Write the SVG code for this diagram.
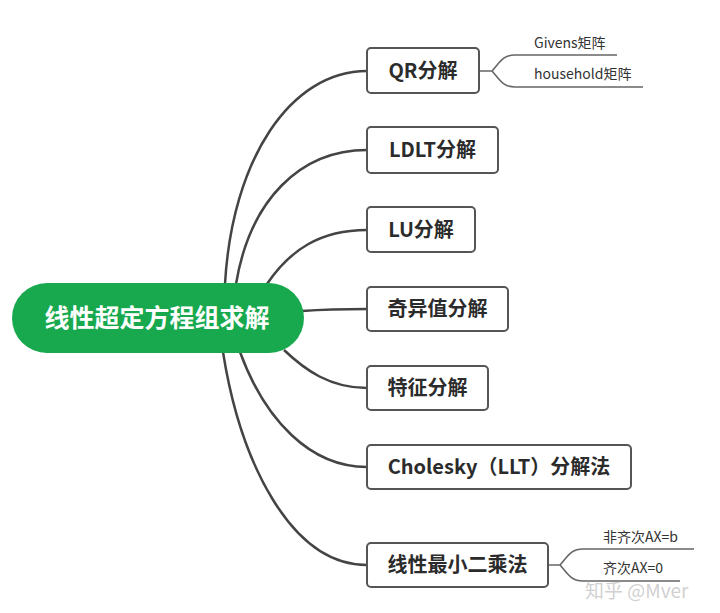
<svg xmlns="http://www.w3.org/2000/svg" width="720" height="613" viewBox="0 0 720 613">
<style>
.box{fill:#fff;stroke:#555;stroke-width:2}
.bt{font-family:"Noto Sans CJK SC","Liberation Sans",sans-serif;font-weight:bold;font-size:20px;fill:#2b2b2b;text-anchor:middle}
.main{fill:none;stroke:#444;stroke-width:2.5}
.sub{fill:none;stroke:#666;stroke-width:1.6}
.st{font-family:"Noto Sans CJK SC","Liberation Sans",sans-serif;font-size:14px;fill:#333}
</style>
<rect width="720" height="613" fill="#fff"/>
<g id="connectors">
<path class="main" d="M225,284 C232,160 290,71 367,71"/>
<path class="main" d="M236,284 C250,200 300,150 367,150"/>
<path class="main" d="M267,284 C290,250 320,230 367,230"/>
<path class="main" d="M302,311 C330,309 345,309 367,309"/>
<path class="main" d="M284,350 C305,370 330,388 367,388"/>
<path class="main" d="M240,352 C265,420 310,467 367,467"/>
<path class="main" d="M223,352 C240,460 290,565 367,565"/>
<path class="sub" d="M479,71 H492 C500,62 503,55 515,55 H617"/>
<path class="sub" d="M492,71 C500,80 503,87 515,87 H643"/>
<path class="sub" d="M548,565 H560 C568,556 571,549 583,549 H694"/>
<path class="sub" d="M560,565 C568,574 571,581 583,581 H680"/>
</g>
<g id="root">
<rect x="12" y="283" width="292" height="70" rx="35" fill="#18a94f"/>
<text x="157" y="327" font-family="Noto Sans CJK SC, sans-serif" font-weight="bold" font-size="25" fill="#fff" text-anchor="middle">线性超定方程组求解</text>
</g>
<g id="qr"><rect class="box" x="367" y="48" width="112" height="45" rx="4"/><text class="bt" x="423" y="78">QR分解</text></g>
<g id="ldlt"><rect class="box" x="367" y="127" width="131" height="46" rx="4"/><text class="bt" x="432.5" y="157">LDLT分解</text></g>
<g id="lu"><rect class="box" x="367" y="207" width="108" height="45" rx="4"/><text class="bt" x="421" y="237">LU分解</text></g>
<g id="svd"><rect class="box" x="367" y="287" width="141" height="44" rx="4"/><text class="bt" x="437.5" y="316">奇异值分解</text></g>
<g id="eig"><rect class="box" x="367" y="366" width="121" height="44" rx="4"/><text class="bt" x="427.5" y="395">特征分解</text></g>
<g id="chol"><rect class="box" x="367" y="445" width="264" height="44" rx="4"/><text class="bt" x="499" y="474">Cholesky（LLT）分解法</text></g>
<g id="lsq"><rect class="box" x="367" y="543" width="181" height="44" rx="4"/><text class="bt" x="457.5" y="572">线性最小二乘法</text></g>
<g id="givens"><text class="st" x="534" y="48">Givens矩阵</text></g>
<g id="household"><text class="st" x="534" y="79">household矩阵</text></g>
<g id="nonhom"><text class="st" x="603" y="542">非齐次AX=b</text></g>
<g id="hom"><text class="st" x="603" y="573">齐次AX=0</text></g>
<text x="585" y="598" font-family="Noto Sans CJK SC, sans-serif" font-size="19" fill="#bbb" fill-opacity="0.7">知乎 @Mver</text>
</svg>
